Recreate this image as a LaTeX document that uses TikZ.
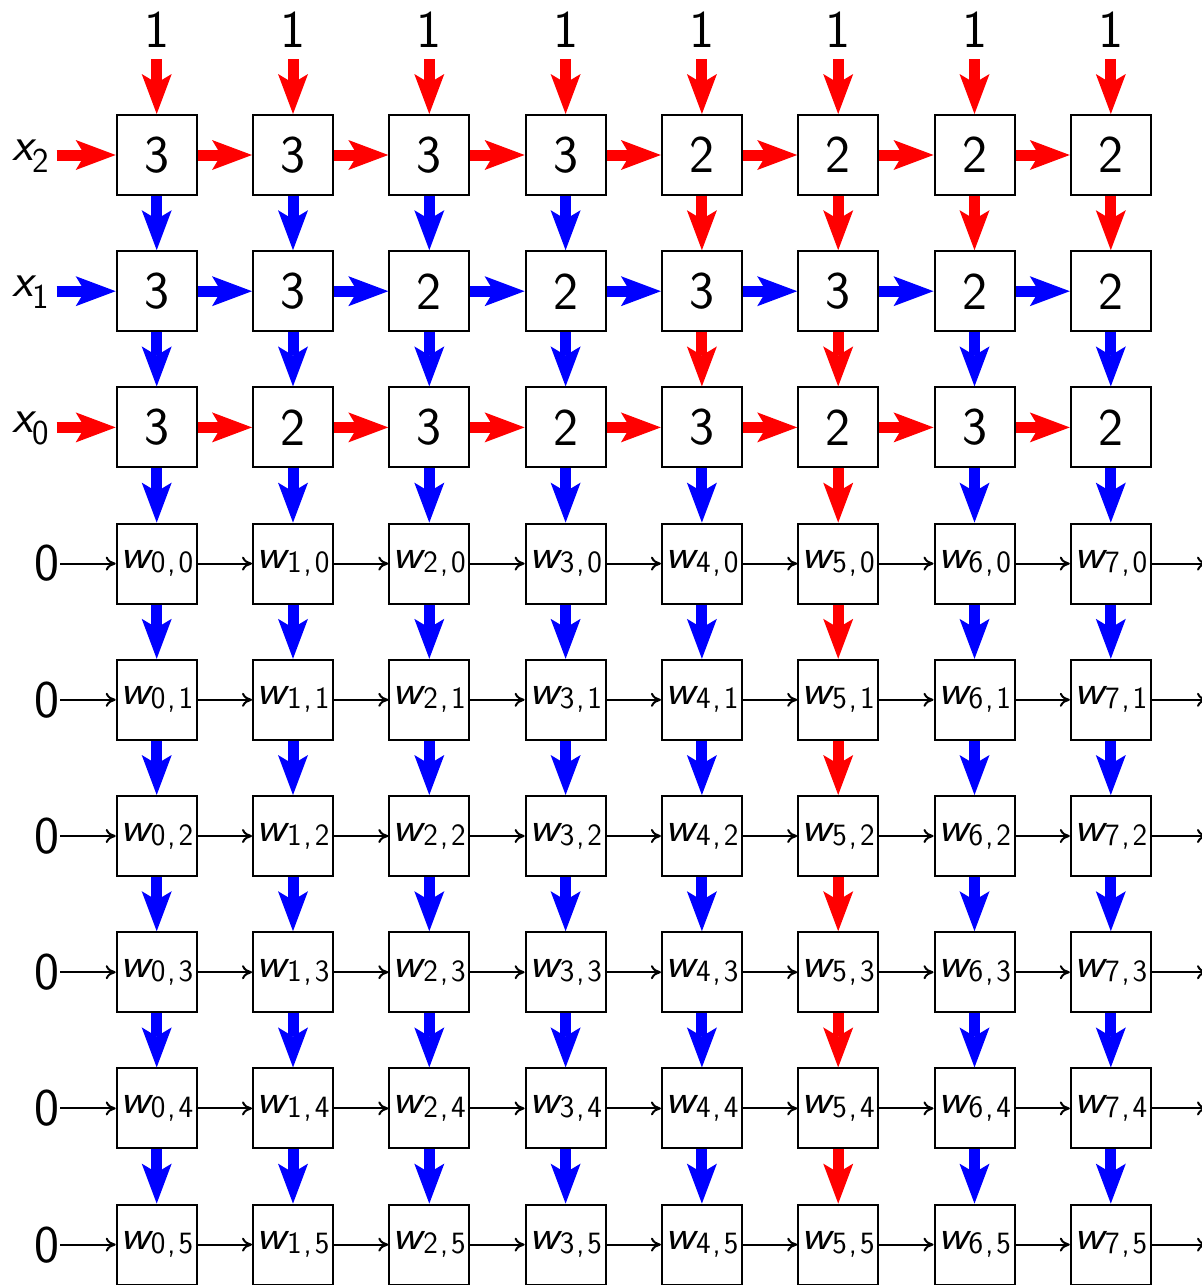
\documentclass[tikz,border=0pt]{standalone}
\usetikzlibrary{arrows.meta}
\definecolor{ared}{RGB}{255,0,0}
\definecolor{ablue}{RGB}{0,0,255}
\newcommand{\wsub}[2]{{\fontsize{42}{46}\selectfont\itshape\scalebox{1.1}[1]{w}}\kern1pt\raisebox{-4pt}{\fontsize{31}{34}\selectfont #1\kern2pt,\kern3pt#2}}
\newcommand{\xsub}[1]{{\fontsize{48}{52}\selectfont\itshape x}\raisebox{-12pt}{\fontsize{35}{40}\selectfont #1}}
\begin{document}
\begin{tikzpicture}[x=1pt,y=-1pt,
  cell/.style={draw, line width=2pt, minimum size=80pt, inner sep=0pt, fill=white},
  big/.style={font=\sffamily\fontsize{53}{60}\selectfont},
  lab/.style={inner sep=0pt},
  thk/.style={line width=11pt, -{Stealth[length=40pt,width=30pt,inset=9pt,line width=0pt]}},
  thn/.style={line width=2pt, -{To[length=10pt,width=14pt]}},
]
\fill[white] (0,0) rectangle (1202,1285);
\useasboundingbox (0,0) rectangle (1202,1285);
\foreach \c/\a/\b/\d/\ca/\cb/\cd in {0/3/3/3/ablue/ablue/ablue, 1/3/3/2/ablue/ablue/ablue, 2/3/2/3/ablue/ablue/ablue, 3/3/2/2/ablue/ablue/ablue, 4/2/3/3/ared/ared/ablue, 5/2/3/2/ared/ared/ared, 6/2/2/3/ared/ablue/ablue, 7/2/2/2/ared/ablue/ablue} {
  \pgfmathsetmacro\xx{156.7+136.3*\c}
  \node[cell,big] (n-0-\c) at (\xx,155) {\a};
  \node[cell,big] (n-1-\c) at (\xx,291.2) {\b};
  \node[cell,big] (n-2-\c) at (\xx,427.4) {\d};
  \foreach \j in {0,...,5} {
    \pgfmathtruncatemacro\rr{\j+3}
    \node[cell,font=\sffamily] (n-\rr-\c) at (\xx,{155+136.2*\rr}) {\wsub{\c}{\j}};
  }
  \node[lab,big] (t-\c) at (\xx,30) {1};
  \draw[thk,color=ared,shorten <=11pt] (t-\c.south) -- (n-0-\c.north);
  \draw[thk,color=\ca] (n-0-\c.south) -- (n-1-\c.north);
  \draw[thk,color=\cb] (n-1-\c.south) -- (n-2-\c.north);
  \foreach \r in {2,...,7} {
    \pgfmathtruncatemacro\rr{\r+1}
    \draw[thk,color=\cd] (n-\r-\c.south) -- (n-\rr-\c.north);
  }
}
% horizontal thick arrows
\foreach \r/\col in {0/ared,1/ablue,2/ared} {
  \foreach \c in {0,...,6} {
    \pgfmathtruncatemacro\cc{\c+1}
    \draw[thk,color=\col] (n-\r-\c.east) -- (n-\r-\cc.west);
  }
}
% x inputs
\node[lab,anchor=base west] (x-2) at (12,160) {\sffamily\xsub{2}};
\node[lab,anchor=base west] (x-1) at (12,296) {\sffamily\xsub{1}};
\node[lab,anchor=base west] (x-0) at (12,432) {\sffamily\xsub{0}};
\draw[thk,color=ared,shorten <=7pt] (x-2.east |- n-0-0.west) -- (n-0-0.west);
\draw[thk,color=ablue,shorten <=7pt] (x-1.east |- n-1-0.west) -- (n-1-0.west);
\draw[thk,color=ared,shorten <=7pt] (x-0.east |- n-2-0.west) -- (n-2-0.west);
% w rows
\foreach \r in {3,...,8} {
  \node[lab,big,anchor=east] (z-\r) at (60,{155+136.2*\r}) {0};
  \draw[thn] (z-\r.east |- n-\r-0.west) -- (n-\r-0.west);
  \foreach \c in {0,...,6} {
    \pgfmathtruncatemacro\cc{\c+1}
    \draw[thn] (n-\r-\c.east) -- (n-\r-\cc.west);
  }
  \coordinate (o-\r) at (1207,{155+136.2*\r});
  \draw[thn] (n-\r-7.east) -- (o-\r);
}
\end{tikzpicture}
\end{document}
